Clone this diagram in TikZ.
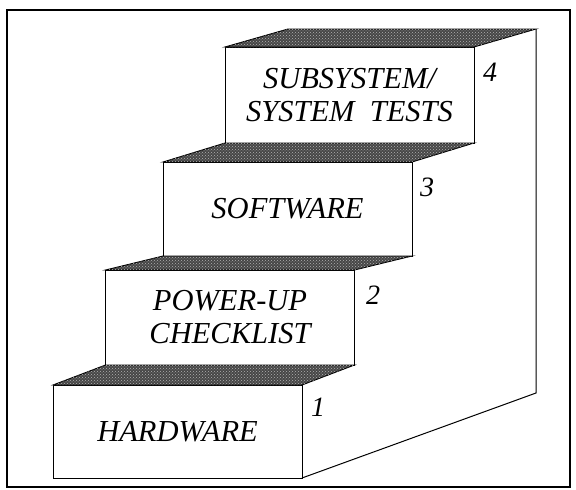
\documentclass[tikz,border=0pt]{standalone}
\usepackage{fontspec}
\setmainfont{Liberation Serif}
\usetikzlibrary{patterns}
\begin{document}
\begin{tikzpicture}[x=1pt,y=-1pt,
  stepbox/.style={draw=black, line width=0.9pt, fill=white, minimum width=249pt, inner sep=0pt, outer sep=0pt,
    align=center, font=\fontsize{30.5}{33}\selectfont\itshape},
  topface/.style={draw=black, line width=0.9pt, fill=black!72,
    postaction={pattern=crosshatch dots, pattern color=black!30}},
  numlabel/.style={font=\fontsize{28}{30}\selectfont\itshape, inner sep=0pt},
  outline/.style={draw=black, line width=1pt}]
\useasboundingbox (0,0) rectangle (576,490);
\draw[line width=2pt] (7,10) rectangle (570,487);
% front faces
\node[stepbox, minimum height=93pt] (s1) at (177.5,431.5) {HARDWARE};
\node[stepbox, minimum height=95pt] (s2) at (230,317.5) {POWER-UP\\CHECKLIST};
\node[stepbox, minimum height=94pt] (s3) at (287.5,209) {SOFTWARE};
\node[stepbox, minimum height=96pt] (s4) at (349.5,95) {SUBSYSTEM/\\SYSTEM~~TESTS};
\coordinate (bl) at (288,29);
\coordinate (br) at (536,29);
\coordinate (rb) at (536,393);
% top faces
\path[topface] (s1.north west) -- (s2.south west) -- (s2.south east) -- (s1.north east) -- cycle;
\path[topface] (s2.north west) -- (s3.south west) -- (s3.south east) -- (s2.north east) -- cycle;
\path[topface] (s3.north west) -- (s4.south west) -- (s4.south east) -- (s3.north east) -- cycle;
\path[topface] (s4.north west) -- (bl) -- (br) -- (s4.north east) -- cycle;
% side outline
\draw[outline] (br) -- (rb) -- (s1.south east);
% numbers
\node[numlabel] (n1) at (318,407) {1};
\node[numlabel] (n2) at (373,295) {2};
\node[numlabel] (n3) at (427,187) {3};
\node[numlabel] (n4) at (490,72) {4};
\end{tikzpicture}
\end{document}
